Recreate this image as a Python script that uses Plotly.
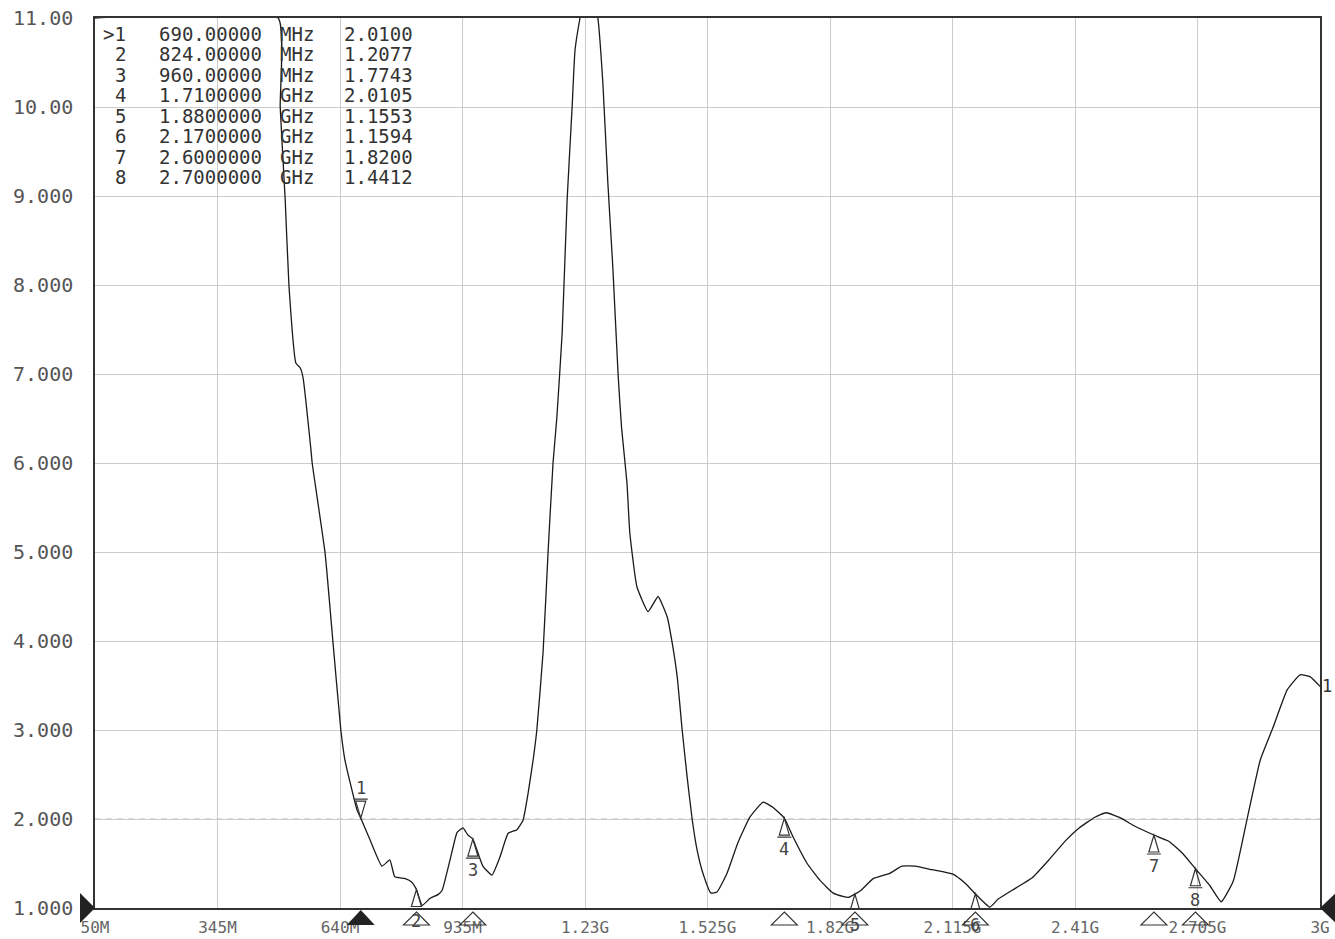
import plotly.graph_objects as go

# ---------------- data ----------------
freq_mhz = [50, 491, 496, 508, 517, 534, 544, 551, 570, 573, 604, 623, 642, 652, 681, 690,
            712, 741, 760, 772, 797, 813, 824, 838, 857, 876, 886, 905, 922, 936, 948, 960,
            984, 1006, 1025, 1045, 1066, 1081, 1093, 1105, 1114, 1129, 1141, 1153, 1162, 1175,
            1187, 1199, 1206, 1218, 1240, 1261, 1273, 1285, 1297, 1310, 1318, 1331, 1338, 1355,
            1382, 1406, 1428, 1440, 1452, 1464, 1476, 1488, 1500, 1514, 1533, 1548, 1572, 1598,
            1627, 1659, 1683, 1710, 1731, 1765, 1796, 1827, 1851, 1865, 1880, 1895, 1924, 1964,
            1993, 2025, 2066, 2116, 2145, 2170, 2205, 2225, 2266, 2307, 2347, 2388, 2420, 2458,
            2485, 2521, 2550, 2600, 2636, 2670, 2700, 2735, 2762, 2791, 2824, 2856, 2887, 2921,
            2952, 2976, 3000]
vswr = [11.0, 11.0, 10.0, 8.96, 8.0, 7.12, 7.07, 6.96, 6.15, 6.0, 4.99, 3.99, 3.0, 2.66, 2.10, 2.01,
        1.77, 1.47, 1.54, 1.35, 1.33, 1.29, 1.2077, 1.03, 1.11, 1.15, 1.20, 1.54, 1.85, 1.90, 1.82, 1.7743,
        1.47, 1.37, 1.57, 1.84, 1.88, 1.99, 2.29, 2.66, 3.0, 3.87, 4.99, 6.0, 6.5, 7.46,
        8.96, 10.0, 10.64, 11.0, 11.5, 11.0, 10.27, 9.15, 8.2, 6.97, 6.4, 5.78, 5.21, 4.61,
        4.33, 4.5, 4.27, 3.98, 3.6, 3.0, 2.47, 2.0, 1.65, 1.39, 1.17, 1.18, 1.39, 1.73,
        2.02, 2.19, 2.13, 2.0105, 1.80, 1.5, 1.31, 1.17, 1.13, 1.12, 1.1553, 1.2, 1.33, 1.39,
        1.47, 1.47, 1.43, 1.38, 1.28, 1.1594, 1.01, 1.10, 1.22, 1.34, 1.54, 1.76, 1.90, 2.02,
        2.07, 2.01, 1.93, 1.82, 1.75, 1.61, 1.4412, 1.25, 1.07, 1.30, 1.99, 2.66, 3.03, 3.45,
        3.62, 3.60, 3.49]

marker_ids = [1, 2, 3, 4, 5, 6, 7, 8]
marker_freq_mhz = [690, 824, 960, 1710, 1880, 2170, 2600, 2700]
marker_vswr = [2.0100, 1.2077, 1.7743, 2.0105, 1.1553, 1.1594, 1.8200, 1.4412]
active_marker = 1

x_tick_vals = [50, 345, 640, 935, 1230, 1525, 1820, 2115, 2410, 2705, 3000]
x_tick_text = ["50M", "345M", "640M", "935M", "1.23G", "1.525G", "1.82G", "2.115G", "2.41G", "2.705G", "3G"]
y_tick_vals = [1, 2, 3, 4, 5, 6, 7, 8, 9, 10, 11]
y_tick_text = ["1.000", "2.000", "3.000", "4.000", "5.000", "6.000", "7.000", "8.000", "9.000", "10.00", "11.00"]
limit_vswr = 2.0
trace_label = "1"

# ---------------- layout helpers ----------------
W, H = 1335, 939
L, R, T, B = 95, 15, 18, 31
PW, PH = W - L - R, H - T - B
MONO = "DejaVu Sans Mono"


def px(xpix):
    return (xpix - L) / PW


def py(ypix):
    return (H - B - ypix) / PH


fig = go.Figure()
fig.add_trace(go.Scatter(x=freq_mhz, y=vswr, mode="lines",
                         line=dict(color="#1a1a1a", width=1.3, shape="spline", smoothing=0.4),
                         hoverinfo="skip", showlegend=False))

shapes = []
annotations = []

# limit line
shapes.append(dict(type="line", xref="paper", x0=0, x1=1, yref="y", y0=limit_vswr, y1=limit_vswr,
                   line=dict(color="#b8b8b8", width=1, dash="6px,5px"), layer="below"))

# reference-level pointers (outside the plot area, so paper-referenced)
shapes.append(dict(type="path", xref="paper", xanchor=0, xsizemode="pixel",
                   yref="paper", yanchor=0, ysizemode="pixel",
                   path="M -15,15 L 0,0 L -15,-15 Z", fillcolor="#222", line=dict(width=0), layer="above"))
shapes.append(dict(type="path", xref="paper", xanchor=1, xsizemode="pixel",
                   yref="paper", yanchor=0, ysizemode="pixel",
                   path="M 0,0 L 18,17 L 18,-17 Z", fillcolor="#222", line=dict(width=0), layer="above"))

for mid, mf, mv in zip(marker_ids, marker_freq_mhz, marker_vswr):
    if mid == active_marker:
        shapes.append(dict(type="path", xref="x", xanchor=mf, xsizemode="pixel",
                           yref="paper", yanchor=0, ysizemode="pixel",
                           path="M 0,-2 L 14,-17 L -14,-17 Z", fillcolor="#222",
                           line=dict(width=0), layer="above"))
        shapes.append(dict(type="path", xref="x", xanchor=mf, xsizemode="pixel",
                           yref="y", yanchor=mv, ysizemode="pixel",
                           path="M 0,0 L 5,17 L -5,17 Z M -7,19 L 7,19",
                           line=dict(color="#333", width=1.2), layer="above"))
        annotations.append(dict(x=mf, y=mv, xref="x", yref="y", text=str(mid), showarrow=False,
                                yshift=30, font=dict(family=MONO, size=17, color="#444")))
    else:
        shapes.append(dict(type="path", xref="x", xanchor=mf, xsizemode="pixel",
                           yref="paper", yanchor=0, ysizemode="pixel",
                           path="M 0,-4 L 13,-17 L -13,-17 Z",
                           line=dict(color="#333", width=1.1), layer="above"))
        shapes.append(dict(type="path", xref="x", xanchor=mf, xsizemode="pixel",
                           yref="y", yanchor=mv, ysizemode="pixel",
                           path="M 0,0 L 5,-17 L -5,-17 Z M -7,-19 L 7,-19",
                           line=dict(color="#333", width=1.2), layer="above"))
        annotations.append(dict(x=mf, y=mv, xref="x", yref="y", text=str(mid), showarrow=False,
                                yshift=-31, font=dict(family=MONO, size=17, color="#444")))

# trace number at the end of the trace
annotations.append(dict(x=freq_mhz[-1], y=vswr[-1], xref="x", yref="y", text=trace_label,
                        showarrow=False, xanchor="left", xshift=0,
                        font=dict(family=MONO, size=17, color="#333")))

# marker table
for i, (mid, mf, mv) in enumerate(zip(marker_ids, marker_freq_mhz, marker_vswr)):
    yc = py(34 + 20.45 * i)
    idx = (">" if mid == active_marker else "") + str(mid)
    if mf < 1000:
        ftxt, unit = f"{mf:.5f}", "MHz"
    else:
        ftxt, unit = f"{mf / 1000:.7f}", "GHz"
    for xpos, txt, anchor in [(128, idx, "right"), (157, ftxt, "left"),
                              (278, unit, "left"), (342, f"{mv:.4f}", "left")]:
        annotations.append(dict(x=px(xpos), y=yc, xref="paper", yref="paper", text=txt,
                                showarrow=False, xanchor=anchor, yanchor="middle",
                                font=dict(family=MONO, size=19, color="#333")))

fig.update_layout(
    template="none",
    width=W, height=H, autosize=False,
    margin=dict(l=L, r=R, t=T, b=B, pad=0),
    paper_bgcolor="white", plot_bgcolor="white",
    shapes=shapes, annotations=annotations,
    showlegend=False,
)
fig.update_xaxes(range=[x_tick_vals[0], x_tick_vals[-1]], tickvals=x_tick_vals, ticktext=x_tick_text,
                 automargin=False,
                 showgrid=True, gridcolor="#cccccc", gridwidth=1, zeroline=False,
                 showline=True, linecolor="#333", linewidth=1.5, mirror=True,
                 ticks="", ticklabelstandoff=4,
                 tickfont=dict(family=MONO, size=16, color="#666"))
fig.update_yaxes(range=[y_tick_vals[0], y_tick_vals[-1]], tickvals=y_tick_vals, ticktext=y_tick_text,
                 automargin=False,
                 showgrid=True, gridcolor="#cccccc", gridwidth=1, zeroline=False,
                 showline=True, linecolor="#333", linewidth=1.5, mirror=True,
                 ticks="", ticklabelstandoff=16,
                 tickfont=dict(family=MONO, size=20, color="#555"))

fig.write_html("out.html", config={"displayModeBar": False},
               post_script="document.body.style.margin='0';document.body.style.overflow='hidden';")
